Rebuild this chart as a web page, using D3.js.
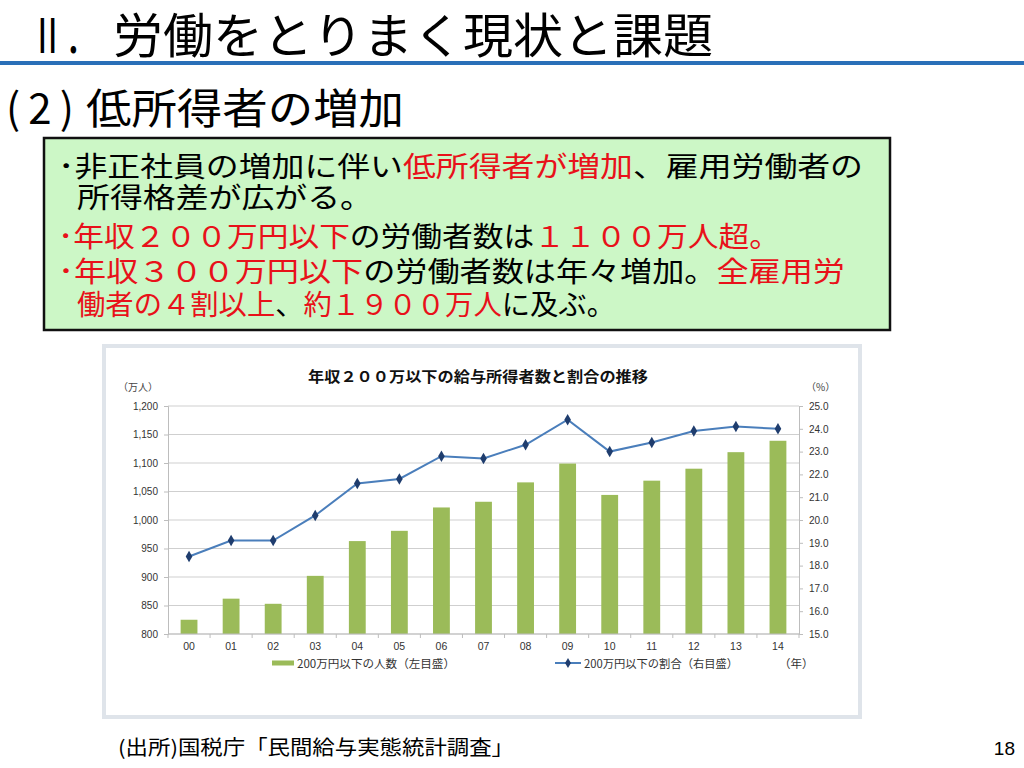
<!DOCTYPE html>
<html><head><meta charset="utf-8">
<script src="https://cdn.jsdelivr.net/npm/d3@7"></script>
<style>
html,body{margin:0;padding:0;background:#fff;}
svg{display:block;}
</style></head>
<body>
<svg id="c" width="1024" height="768"></svg>
<script>
// ---- data ----
const years = ["00","01","02","03","04","05","06","07","08","09","10","11","12","13","14"];
const workers = [825,862,853,902,963,981,1022,1032,1066,1099,1044,1069,1090,1119,1139]; // 万人, left axis
const shares = [18.4,19.1,19.1,20.2,21.6,21.8,22.8,22.7,23.3,24.4,23.0,23.4,23.9,24.1,24.0]; // %, right axis
const leftTicks = [800,850,900,950,1000,1050,1100,1150,1200];
const rightTicks = [15,16,17,18,19,20,21,22,23,24,25];

const JP = "'Noto Sans CJK JP','Noto Sans',sans-serif";
const NUM = "'Liberation Sans',Arial,sans-serif";
const svg = d3.select("#c");

function txt(x,y,s,size,opts={}){
  const t = svg.append("text").attr("x",x).attr("y",y).attr("dominant-baseline","central")
    .style("font-family",opts.font||JP).style("font-size",size+"px").attr("fill",opts.fill||"#000");
  if(opts.w) t.attr("textLength",opts.w).attr("lengthAdjust",opts.adj||"spacingAndGlyphs");
  if(opts.anchor) t.attr("text-anchor",opts.anchor);
  if(opts.weight) t.style("font-weight",opts.weight);
  t.text(s);
  return t;
}

// ---- slide header ----
txt(30,32,"Ⅱ．",48,{w:70});
txt(113,32,"労働をとりまく現状と課題",48,{w:600});
svg.append("rect").attr("x",0).attr("y",61).attr("width",1024).attr("height",4).attr("fill","#2a6fb8");
txt(6,105,"(2)",42,{w:68,adj:"spacing"});
txt(86,105,"低所得者の増加",42,{w:318});

// ---- text box ----
svg.append("rect").attr("x",44).attr("y",138).attr("width",846).attr("height",192)
  .attr("fill","#ccf7c6").attr("stroke","#111").attr("stroke-width",2.5);
const R="#e8111a", K="#000";
const lines = [
  {x:58,y:165,w:805,parts:[["･非正社員の増加に伴い",K],["低所得者が増加",R],["、雇用労働者の",K]]},
  {x:77,y:196,w:296,parts:[["所得格差が広がる。",K]]},
  {x:58,y:235,w:722,parts:[["･年収２００万円以下",R],["の労働者数は",K],["１１００万人超。",R]]},
  {x:58,y:270,w:787,parts:[["･年収３００万円以下",R],["の労働者数は年々増加。",K],["全雇用労",R]]},
  {x:77,y:303,w:538,parts:[["働者の４割以上",R],["、",K],["約１９００万人",R],["に及ぶ。",K]]}
];
lines.forEach(l=>{
  const t = svg.append("text").attr("x",l.x).attr("y",l.y).attr("dominant-baseline","central")
    .style("font-family",JP).style("font-size","28px")
    .attr("textLength",l.w).attr("lengthAdjust","spacingAndGlyphs");
  l.parts.forEach(p=>t.append("tspan").attr("fill",p[1]).text(p[0]));
});

// ---- chart panel ----
svg.append("rect").attr("x",104).attr("y",346).attr("width",756).attr("height",371)
  .attr("fill","#fff").attr("stroke","#dfe4ea").attr("stroke-width",4);

const plot = {l:168, r:799, t:406, b:634};
const x = d3.scaleBand().domain(years).range([plot.l,plot.r]).paddingInner(0.6).paddingOuter(0.3);
const yL = d3.scaleLinear().domain([800,1200]).range([plot.b,plot.t]);
const yR = d3.scaleLinear().domain([15,25]).range([plot.b,plot.t]);

txt(308,375,"年収２００万以下の給与所得者数と割合の推移",14.5,{weight:"bold",fill:"#111",w:340});
txt(118,386,"（万人）",10,{fill:"#444"});
txt(806,386,"（%）",10,{fill:"#444"});

// gridlines
svg.append("g").selectAll("line").data(leftTicks).join("line")
  .attr("x1",plot.l).attr("x2",plot.r).attr("y1",d=>yL(d)).attr("y2",d=>yL(d))
  .attr("stroke","#cfcfcf").attr("stroke-width",1.2);

// left axis
const gL = svg.append("g").attr("transform",`translate(${plot.l},0)`)
  .call(d3.axisLeft(yL).tickValues(leftTicks).tickFormat(d3.format(",")).tickSize(4).tickPadding(6));
gL.select(".domain").attr("stroke","#bdbdbd");
gL.selectAll(".tick line").attr("stroke","#bdbdbd");
gL.selectAll("text").style("font-family",NUM).style("font-size","10px").attr("fill","#333");

// right axis
const gR = svg.append("g").attr("transform",`translate(${plot.r},0)`)
  .call(d3.axisRight(yR).tickValues(rightTicks).tickFormat(d3.format(".1f")).tickSize(4).tickPadding(6));
gR.select(".domain").attr("stroke","#bdbdbd");
gR.selectAll(".tick line").attr("stroke","#bdbdbd");
gR.selectAll("text").style("font-family",NUM).style("font-size","10px").attr("fill","#333");

// bars
svg.append("g").selectAll("rect").data(years).join("rect")
  .attr("x",d=>x(d)).attr("width",x.bandwidth())
  .attr("y",(d,i)=>yL(workers[i])).attr("height",(d,i)=>yL(800)-yL(workers[i]))
  .attr("fill","#9bbb59");

// bottom axis
const boundaries = years.map(d=>x(d)+x.bandwidth()/2-x.step()/2).concat([plot.r]);
svg.append("line").attr("x1",plot.l).attr("x2",plot.r).attr("y1",plot.b).attr("y2",plot.b)
  .attr("stroke","#bdbdbd").attr("stroke-width",1.2);
svg.append("g").selectAll("line").data(boundaries).join("line")
  .attr("x1",d=>d).attr("x2",d=>d).attr("y1",plot.b).attr("y2",plot.b+4).attr("stroke","#bdbdbd");
svg.append("g").selectAll("text").data(years).join("text")
  .attr("x",d=>x(d)+x.bandwidth()/2).attr("y",646).attr("text-anchor","middle").attr("dominant-baseline","central")
  .style("font-family",NUM).style("font-size","10.5px").attr("fill","#333").text(d=>d);

// line
const cx = d=>x(d)+x.bandwidth()/2;
svg.append("path").datum(years)
  .attr("d",d3.line().x(d=>cx(d)).y((d,i)=>yR(shares[i])))
  .attr("fill","none").attr("stroke","#4a7ebb").attr("stroke-width",2);
svg.append("g").selectAll("path").data(years).join("path")
  .attr("transform",(d,i)=>`translate(${cx(d)},${yR(shares[i])})`)
  .attr("d",d3.symbol(d3.symbolDiamond,38)).attr("fill","#1f3d6e");

// legend
const ly = 663;
svg.append("rect").attr("x",272).attr("y",ly-2.5).attr("width",22).attr("height",5).attr("fill","#9bbb59");
txt(297,ly,"200万円以下の人数（左目盛）",11.5,{fill:"#333",w:158});
svg.append("line").attr("x1",555).attr("x2",581).attr("y1",ly).attr("y2",ly).attr("stroke","#4a7ebb").attr("stroke-width",2);
svg.append("path").attr("transform",`translate(568,${ly})`).attr("d",d3.symbol(d3.symbolDiamond,30)).attr("fill","#1f3d6e");
txt(584,ly,"200万円以下の割合（右目盛）",11.5,{fill:"#333",w:154});
txt(779,ly,"（年）",11.5,{fill:"#333"});

// footer
txt(118,746,"(出所)国税庁「民間給与実態統計調査」",20,{w:396});
txt(1015,748,"18",19,{font:NUM,anchor:"end"});
</script>
</body></html>
